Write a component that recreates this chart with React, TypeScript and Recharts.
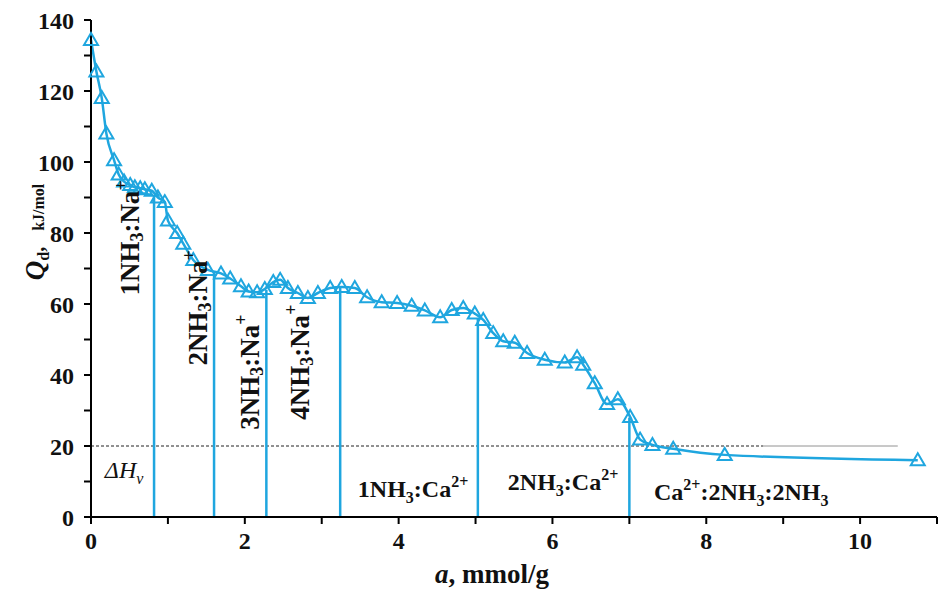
import React from 'react';
import { LineChart, Line, XAxis, YAxis, ReferenceLine, ReferenceDot } from 'recharts';

const aValues = [
  0, 0.07, 0.14, 0.2, 0.3, 0.36, 0.43, 0.51, 0.57, 0.64, 0.7, 0.79, 0.87, 0.96,
  1.0, 1.12, 1.2, 1.33, 1.52, 1.69, 1.81, 1.95, 2.05, 2.16, 2.26, 2.37, 2.46, 2.56,
  2.69, 2.82, 2.95, 3.11, 3.26, 3.43, 3.59, 3.78, 3.98, 4.17, 4.34, 4.54, 4.69, 4.84,
  4.99, 5.1, 5.23, 5.36, 5.51, 5.67, 5.9, 6.16, 6.32, 6.4, 6.55, 6.71, 6.85, 7.01,
  7.14, 7.3, 7.57, 8.24, 10.75,
];
const qValues = [
  134.4, 125.5, 118, 108, 100.5, 96.5, 94.5, 93.5, 92.9, 92.6, 92.3, 91.9, 90.0, 88.7,
  83.5, 80, 77, 72.4, 69.6, 68.6, 67.2, 65, 63.5, 63.3, 64.2, 66.2, 66.8, 64.5,
  63.1, 61.7, 63.1, 64.5, 64.8, 64.5, 61.9, 60.5, 60.3, 59.5, 58.2, 56.3, 58.3, 58.9,
  57.3, 55.5, 51.8, 49.5, 49.1, 46.2, 44.3, 43.5, 45.0, 42.9, 37.7, 31.8, 33.2, 28.2,
  21.8, 20.3, 19.2, 17.5, 16.0,
];
const data = aValues.map((a, i) => ({ a, q: qValues[i] }));

const xTicks = [0, 1, 2, 3, 4, 5, 6, 7, 8, 9, 10, 11];
const yTicks = [0, 10, 20, 30, 40, 50, 60, 70, 80, 90, 100, 110, 120, 130, 140];
const xLabelled = [0, 2, 4, 6, 8, 10];
const yLabelled = [0, 20, 40, 60, 80, 100, 120, 140];

const dividerA = [0.82, 1.6, 2.28, 3.24, 5.03, 7.0];
const dividerQ = [90.7, 69, 64, 64.8, 56, 28];
const vaporQ = 20;
const vaporDashEnd = 8.74;
const vaporThinEnd = 10.49;

const naLabels = [
  { n: '1', a: 0.51, q: 78.6 },
  { n: '2', a: 1.39, q: 58.9 },
  { n: '3', a: 2.07, q: 40.8 },
  { n: '4', a: 2.72, q: 43.6 },
];
const caLabels = [
  { n: '1', a: 3.47, q: 5.6 },
  { n: '2', a: 5.42, q: 7.6 },
];
const dhLabel = { a: 0.18, q: 11 };
const complexLabel = { a: 7.32, q: 4.8 };

const BLUE = '#1fa6df';
const FONT = '"Liberation Serif", "Times New Roman", serif';
const LF = 24;
const SF = 16;
const RF = 27;
const RSF = 18;

const Tri = (props: any) => {
  const { cx, cy, index } = props;
  if (cx == null || cy == null) return null;
  return (
    <polygon
      key={`t${index}`}
      points={`${cx},${cy - 7} ${cx - 7},${cy + 5} ${cx + 7},${cy + 5}`}
      fill="none"
      stroke={BLUE}
      strokeWidth={2}
    />
  );
};

const NaText = (n: string) => (props: any) => {
  const { cx, cy } = props;
  return (
    <text
      x={cx}
      y={cy}
      transform={`rotate(-90 ${cx} ${cy})`}
      textAnchor="middle"
      dominantBaseline="central"
      fontFamily={FONT}
      fontWeight="bold"
      fontSize={RF}
      fill="#111"
    >
      {n}NH<tspan fontSize={RSF} dy={7}>3</tspan>
      <tspan fontSize={RF} dy={-7}>:Na</tspan>
      <tspan fontSize={RSF} dy={-9}>+</tspan>
    </text>
  );
};

const CaText = (n: string) => (props: any) => {
  const { cx, cy } = props;
  return (
    <text x={cx} y={cy} fontFamily={FONT} fontWeight="bold" fontSize={LF} fill="#111">
      {n}NH<tspan fontSize={SF} dy={6}>3</tspan>
      <tspan fontSize={LF} dy={-6}>:Ca</tspan>
      <tspan fontSize={SF} dy={-10}>2+</tspan>
    </text>
  );
};

const ComplexText = (props: any) => {
  const { cx, cy } = props;
  return (
    <text x={cx} y={cy} fontFamily={FONT} fontWeight="bold" fontSize={LF} fill="#111">
      Ca<tspan fontSize={SF} dy={-10}>2+</tspan>
      <tspan fontSize={LF} dy={10}>:2NH</tspan>
      <tspan fontSize={SF} dy={6}>3</tspan>
      <tspan fontSize={LF} dy={-6}>:2NH</tspan>
      <tspan fontSize={SF} dy={6}>3</tspan>
    </text>
  );
};

const DhText = (props: any) => {
  const { cx, cy } = props;
  return (
    <text x={cx} y={cy} fontFamily={FONT} fontStyle="italic" fontSize={LF} fill="#111">
      ΔH<tspan fontSize={SF} dy={6}>v</tspan>
    </text>
  );
};

const XTitle = (props: any) => {
  const { viewBox } = props;
  const x = viewBox.x + viewBox.width / 2 - 22;
  const y = viewBox.y + 66;
  return (
    <text x={x} y={y} textAnchor="middle" fontFamily={FONT} fontWeight="bold" fontSize={27} fill="#111">
      <tspan fontStyle="italic">a</tspan>, mmol/g
    </text>
  );
};

const YTitle = () => {
  const x = 44;
  const y = 232;
  return (
    <text
      x={x}
      y={y}
      transform={`rotate(-90 ${x} ${y})`}
      textAnchor="middle"
      fontFamily={FONT}
      fontWeight="bold"
      fill="#111"
    >
      <tspan fontStyle="italic" fontSize={27}>Q</tspan>
      <tspan fontSize={16} dy={5}>d</tspan>
      <tspan fontSize={20} dy={-5}>,</tspan>
      <tspan fontSize={16} dx={16}>kJ/mol</tspan>
    </text>
  );
};

export default function App() {
  return (
    <div style={{ position: 'absolute', left: 0, top: 0, background: '#fff' }}>
      <LineChart
        width={941}
        height={589}
        data={data}
        margin={{ top: 20, right: 4, bottom: 0, left: 0 }}
      >
        <XAxis
          dataKey="a"
          type="number"
          domain={[0, 11]}
          ticks={xTicks}
          interval={0}
          tickFormatter={(v: number) => (xLabelled.includes(v) ? String(v) : '')}
          height={72}
          tickSize={7}
          tickMargin={8}
          stroke="#000"
          strokeWidth={2}
          tick={{ fill: '#111', fontFamily: FONT, fontWeight: 'bold', fontSize: 24 }}
          label={XTitle}
        />
        <YAxis
          dataKey="q"
          type="number"
          domain={[0, 140]}
          ticks={yTicks}
          interval={0}
          tickFormatter={(v: number) => (yLabelled.includes(v) ? String(v) : '')}
          width={91}
          tickSize={7}
          tickMargin={10}
          stroke="#000"
          strokeWidth={2}
          tick={{ fill: '#111', fontFamily: FONT, fontWeight: 'bold', fontSize: 24 }}
          label={YTitle}
        />
        <ReferenceLine
          segment={[{ x: 0, y: vaporQ }, { x: vaporDashEnd, y: vaporQ }]}
          stroke="#222"
          strokeWidth={1}
          strokeDasharray="3 2"
        />
        <ReferenceLine
          segment={[{ x: vaporDashEnd, y: vaporQ }, { x: vaporThinEnd, y: vaporQ }]}
          stroke="#777"
          strokeWidth={0.8}
        />
        {dividerA.map((a, i) => (
          <ReferenceLine
            key={`d${i}`}
            segment={[{ x: a, y: 0 }, { x: a, y: dividerQ[i] }]}
            stroke={BLUE}
            strokeWidth={2.5}
          />
        ))}
        <Line
          type="monotone"
          dataKey="q"
          stroke={BLUE}
          strokeWidth={2.5}
          dot={Tri}
          activeDot={false}
          isAnimationActive={false}
        />
        {naLabels.map((l, i) => (
          <ReferenceDot key={`na${i}`} x={l.a} y={l.q} r={0} shape={NaText(l.n)} />
        ))}
        {caLabels.map((l, i) => (
          <ReferenceDot key={`ca${i}`} x={l.a} y={l.q} r={0} shape={CaText(l.n)} />
        ))}
        <ReferenceDot x={dhLabel.a} y={dhLabel.q} r={0} shape={DhText} />
        <ReferenceDot x={complexLabel.a} y={complexLabel.q} r={0} shape={ComplexText} />
      </LineChart>
    </div>
  );
}
